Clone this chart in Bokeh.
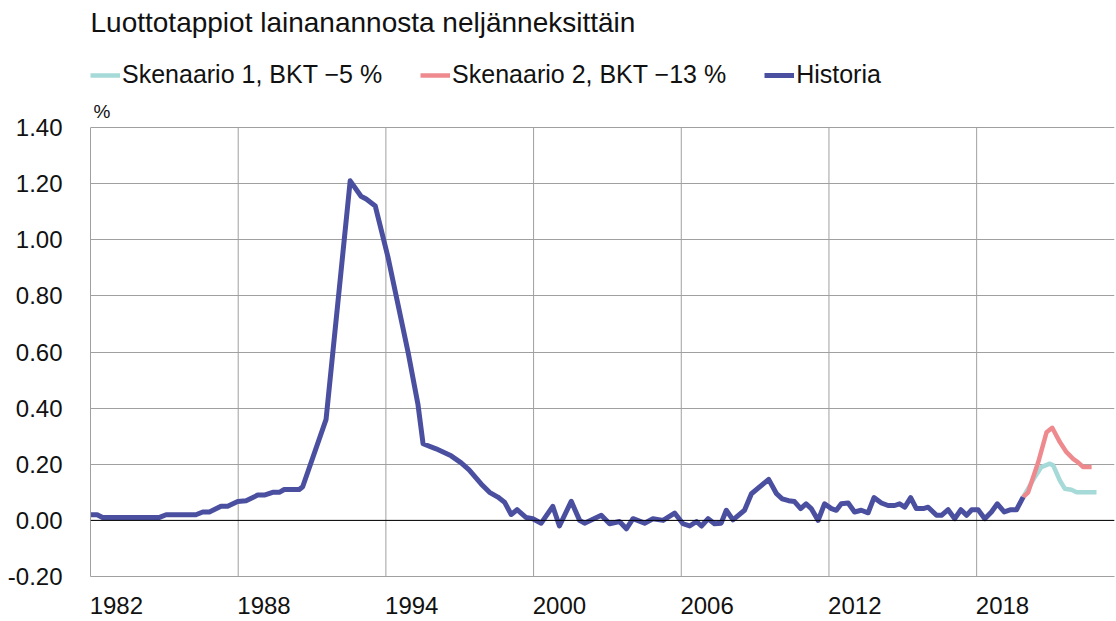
from bokeh.plotting import figure
from bokeh.models import (ColumnDataSource, FixedTicker, NumeralTickFormatter, CustomJSTickFormatter,
                          Span, Label, Legend, LegendItem, Range1d)
from bokeh.embed import file_html
from bokeh.resources import INLINE

# ---- data ----
hist_year = [1982.0, 1982.27, 1982.49, 1984.78, 1985.07, 1986.28, 1986.56, 1986.83, 1987.3, 1987.57,
             1987.98, 1988.32, 1988.79, 1989.06, 1989.4, 1989.67, 1989.87, 1990.48, 1990.62, 1991.57,
             1992.55, 1992.99, 1993.2, 1993.57, 1994.08, 1994.9, 1995.3, 1995.51, 1996.04, 1996.65,
             1997.06, 1997.38, 1997.87, 1998.21, 1998.55, 1998.82, 1999.09, 1999.33, 1999.7, 1999.97,
             2000.31, 2000.78, 2001.05, 2001.53, 2001.87, 2002.07, 2002.75, 2003.09, 2003.49, 2003.77,
             2004.04, 2004.51, 2004.85, 2005.26, 2005.73, 2006.07, 2006.34, 2006.62, 2006.82, 2007.09,
             2007.35, 2007.62, 2007.83, 2008.1, 2008.57, 2008.85, 2009.55, 2009.87, 2010.1, 2010.36,
             2010.6, 2010.85, 2011.07, 2011.28, 2011.56, 2011.82, 2012.1, 2012.3, 2012.5, 2012.78,
             2013.04, 2013.31, 2013.59, 2013.83, 2014.13, 2014.4, 2014.67, 2014.87, 2015.08, 2015.32,
             2015.55, 2015.83, 2016.03, 2016.37, 2016.57, 2016.84, 2017.11, 2017.36, 2017.59, 2017.8,
             2018.06, 2018.33, 2018.6, 2018.84, 2019.12, 2019.39, 2019.62, 2019.89]
hist_value = [0.02, 0.02, 0.01, 0.01, 0.02, 0.02, 0.03, 0.03, 0.05, 0.05,
              0.067, 0.07, 0.09, 0.09, 0.10, 0.10, 0.11, 0.11, 0.12, 0.36,
              1.21, 1.155, 1.145, 1.12, 0.94, 0.60, 0.415, 0.273, 0.255, 0.23,
              0.205, 0.18, 0.13, 0.10, 0.083, 0.065, 0.021, 0.038, 0.01, 0.006,
              -0.01, 0.05, -0.02, 0.068, 0.0, -0.01, 0.018, -0.012, -0.004, -0.03,
              0.006, -0.01, 0.006, 0.0, 0.026, -0.012, -0.02, -0.004, -0.02, 0.006,
              -0.012, -0.01, 0.036, 0.002, 0.036, 0.095, 0.146, 0.095, 0.077, 0.07,
              0.067, 0.042, 0.059, 0.042, 0.0, 0.059, 0.042, 0.036, 0.059, 0.062,
              0.03, 0.036, 0.027, 0.081, 0.062, 0.053, 0.053, 0.059, 0.047, 0.081,
              0.042, 0.042, 0.047, 0.018, 0.018, 0.038, 0.006, 0.038, 0.018, 0.038,
              0.038, 0.006, 0.03, 0.059, 0.03, 0.038, 0.038, 0.083]

s1_year = [2019.89, 2020.36, 2020.63, 2020.97, 2021.11, 2021.38, 2021.58, 2021.85, 2022.06, 2022.87]
s1_value = [0.083, 0.154, 0.19, 0.202, 0.196, 0.142, 0.113, 0.109, 0.10, 0.10]

s2_year = [2019.89, 2020.09, 2020.5, 2020.84, 2021.07, 2021.38, 2021.65, 2021.92, 2022.12, 2022.33, 2022.67]
s2_value = [0.083, 0.10, 0.207, 0.314, 0.33, 0.279, 0.243, 0.219, 0.207, 0.19, 0.19]

year_ticks = [1982, 1988, 1994, 2000, 2006, 2012, 2018]
y_ticks = [-0.2, 0.0, 0.2, 0.4, 0.6, 0.8, 1.0, 1.2, 1.4]

title_text = "Luottotappiot lainanannosta neljänneksittäin"
names = ["Skenaario 1, BKT \u22125 %", "Skenaario 2, BKT \u221213 %", "Historia"]
colors = ["#A6DAD8", "#EE8A8E", "#4B4FA0"]

FONT = "Liberation Sans"
TXT = "#111111"
GRID = "#A0A0A0"
LABEL_SHIFT = 1.05       # year labels sit to the right of their gridline
PX_PER_UNIT = 280.6      # vertical scale of the value axis
HEADER_PX = 127          # space above the 1.40 line used for title / legend / unit
FRAME_H = 576
Y_MIN, Y_MAX = y_ticks[0], y_ticks[-1]

p = figure(frame_width=1024, frame_height=FRAME_H, output_backend="svg", toolbar_location=None,
           x_range=Range1d(year_ticks[0], 2023.6),
           y_range=Range1d(Y_MIN, Y_MAX + HEADER_PX / PX_PER_UNIT),
           min_border_left=90, min_border_right=2, min_border_top=0, min_border_bottom=45)
p.outline_line_color = None

# axes
p.xaxis.ticker = FixedTicker(ticks=[t + LABEL_SHIFT for t in year_ticks])
p.xaxis.formatter = CustomJSTickFormatter(code="return String(Math.round(tick - %s));" % LABEL_SHIFT)
p.xaxis.major_tick_line_color = None
p.xaxis.minor_tick_line_color = None
p.xaxis.axis_line_color = GRID
p.xaxis.major_label_standoff = 14
p.yaxis.ticker = FixedTicker(ticks=y_ticks)
p.yaxis.formatter = NumeralTickFormatter(format="0.00")
p.yaxis.bounds = (Y_MIN, Y_MAX)
p.yaxis.major_tick_line_color = None
p.yaxis.minor_tick_line_color = None
p.yaxis.axis_line_color = GRID
p.yaxis.major_label_standoff = 22
for ax in (p.xaxis[0], p.yaxis[0]):
    ax.major_label_text_font = FONT
    ax.major_label_text_font_size = "24px"
    ax.major_label_text_color = TXT

# grid: horizontal lines at value ticks, vertical lines only inside the value range
p.xgrid.grid_line_color = None
p.ygrid.ticker = FixedTicker(ticks=y_ticks)
p.ygrid.grid_line_color = GRID
vx = year_ticks[1:]
p.segment(x0=vx, y0=[Y_MIN] * len(vx), x1=vx, y1=[Y_MAX] * len(vx), line_color=GRID, line_width=1)

p.add_layout(Span(location=0, dimension="width", line_color="black", line_width=1))

src1 = ColumnDataSource(dict(x=s1_year, y=s1_value))
src2 = ColumnDataSource(dict(x=s2_year, y=s2_value))
srch = ColumnDataSource(dict(x=hist_year, y=hist_value))
r1 = p.line("x", "y", source=src1, line_color=colors[0], line_width=4.5, line_join="round")
r2 = p.line("x", "y", source=src2, line_color=colors[1], line_width=4.5, line_join="round")
rh = p.line("x", "y", source=srch, line_color=colors[2], line_width=5, line_join="round")

legend = Legend(items=[LegendItem(label=names[0], renderers=[r1]),
                       LegendItem(label=names[1], renderers=[r2]),
                       LegendItem(label=names[2], renderers=[rh])],
                orientation="horizontal", location=(0, 487),
                glyph_width=30, glyph_height=26, label_standoff=2, spacing=38,
                padding=0, margin=0, border_line_color=None, background_fill_alpha=0,
                label_text_font=FONT, label_text_font_size="25px", label_text_color=TXT)
p.add_layout(legend, "center")

p.add_layout(Label(x=0, y=554, x_units="screen", y_units="screen", text=title_text,
                   text_font=FONT, text_font_size="28px", text_color=TXT,
                   text_baseline="alphabetic"))
p.add_layout(Label(x=3, y=465, x_units="screen", y_units="screen", text="%",
                   text_font=FONT, text_font_size="19px", text_color=TXT,
                   text_baseline="alphabetic"))

open("out.html", "w").write(file_html(p, INLINE))
